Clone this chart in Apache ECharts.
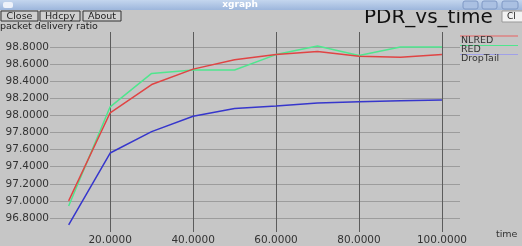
<!DOCTYPE html>
<html><head><meta charset="utf-8">
<script src="https://cdn.jsdelivr.net/npm/echarts@6/dist/echarts.min.js"></script>
<style>html,body{margin:0;padding:0;background:#c6c6c6}#c{width:522px;height:246px}</style>
</head><body><div id="c"></div>
<script>
var time = [10, 20, 30, 40, 50, 60, 70, 80, 90, 100];
var NLRED = [97.00, 98.03, 98.36, 98.54, 98.65, 98.71, 98.745, 98.69, 98.68, 98.71];
var RED = [96.94, 98.10, 98.49, 98.53, 98.53, 98.71, 98.81, 98.70, 98.80, 98.80];
var DropTail = [96.72, 97.56, 97.81, 97.99, 98.08, 98.11, 98.145, 98.16, 98.17, 98.18];
var xTicks = [20, 40, 60, 80, 100];
var yTicks = [96.8, 97.0, 97.2, 97.4, 97.6, 97.8, 98.0, 98.2, 98.4, 98.6, 98.8];
var seriesNames = ['NLRED', 'RED', 'DropTail'];
var colors = ['#e04444', '#4fe68e', '#3636cc'];

function pairs(ys){ return time.map(function(t,i){return [t, ys[i]];}); }
var chart = echarts.init(document.getElementById('c'), null, {renderer:'canvas'});
var F = 'DejaVu Sans';
var graphics = [
  {type:'rect', shape:{x:0,y:0,width:522,height:10}, style:{fill:new echarts.graphic.LinearGradient(0,0,0,1,[{offset:0,color:'#c4d6ee'},{offset:1,color:'#9db6dc'}])}, z:10},
  {type:'rect', shape:{x:3,y:2,width:10,height:6,r:2}, style:{fill:'#eef2fa'}, z:11},
  {type:'text', style:{text:'xgraph', x:240, y:5, fill:'#ffffff', font:'bold 9px '+F, align:'center', verticalAlign:'middle'}, z:11},
  {type:'rect', shape:{x:463,y:1,width:15,height:8,r:2}, style:{fill:'#aac0e2', stroke:'#7f98c4', lineWidth:1}, z:11},
  {type:'rect', shape:{x:482,y:1,width:15,height:8,r:2}, style:{fill:'#aac0e2', stroke:'#7f98c4', lineWidth:1}, z:11},
  {type:'rect', shape:{x:502,y:1,width:16,height:8,r:2}, style:{fill:'#aac0e2', stroke:'#7f98c4', lineWidth:1}, z:11},
  {type:'rect', shape:{x:1,y:11,width:37,height:10}, style:{fill:'#cfcfcf', stroke:'#333', lineWidth:1}, z:10},
  {type:'text', style:{text:'Close', x:19.5, y:16.5, fill:'#222', font:'9.5px '+F, align:'center', verticalAlign:'middle'}, z:11},
  {type:'rect', shape:{x:40,y:11,width:40,height:10}, style:{fill:'#cfcfcf', stroke:'#333', lineWidth:1}, z:10},
  {type:'text', style:{text:'Hdcpy', x:60, y:16.5, fill:'#222', font:'9.5px '+F, align:'center', verticalAlign:'middle'}, z:11},
  {type:'rect', shape:{x:83,y:11,width:38,height:10}, style:{fill:'#cfcfcf', stroke:'#333', lineWidth:1}, z:10},
  {type:'text', style:{text:'About', x:102, y:16.5, fill:'#222', font:'9.5px '+F, align:'center', verticalAlign:'middle'}, z:11},
  {type:'rect', shape:{x:502,y:11,width:22,height:11}, style:{fill:'#f2f2f2', stroke:'#999', lineWidth:1}, z:10},
  {type:'text', style:{text:'Cl', x:507, y:16.5, fill:'#222', font:'9px '+F, verticalAlign:'middle'}, z:11},
  {type:'text', style:{text:'packet delivery ratio', x:0, y:27, fill:'#222', font:'9.5px '+F, verticalAlign:'middle'}, z:11},
  {type:'text', style:{text:'time', x:496, y:235, fill:'#333', font:'9.5px '+F, verticalAlign:'middle'}, z:11}
];
var legY = [36, 45.5, 54.5];
var legLine = ['#e86060', '#4fe68e', '#a0a0e8'];
seriesNames.forEach(function(n,i){
  graphics.push({type:'line', shape:{x1:460,y1:legY[i],x2:518,y2:legY[i]}, style:{stroke:legLine[i], lineWidth:1}, z:10});
  graphics.push({type:'text', style:{text:n, x:461, y:legY[i]+4.5, fill:'#333', font:'9.5px '+F, verticalAlign:'middle'}, z:11});
});

chart.setOption({
  animation:false,
  backgroundColor:'#c6c6c6',
  title:{text:'PDR_vs_time', left:364, top:8, textStyle:{fontFamily:F, fontSize:20, fontWeight:'normal', color:'#111'}, padding:0},
  grid:{left:50, right:62, top:32, bottom:13},
  xAxis:{type:'value', min:5.5, max:104.35,
    axisLine:{show:false}, axisTick:{show:false, customValues:xTicks},
    axisLabel:{customValues:xTicks, formatter:function(v){return v.toFixed(4);}, fontFamily:F, fontSize:10.5, color:'#333', margin:3},
    splitLine:{show:true, lineStyle:{color:'#5c5c5c', width:1}}},
  yAxis:{type:'value', min:96.637, max:98.974,
    axisLine:{show:false}, axisTick:{show:false, customValues:yTicks},
    axisLabel:{customValues:yTicks, formatter:function(v){return v.toFixed(4);}, fontFamily:F, fontSize:10.5, color:'#333', margin:1},
    splitLine:{show:true, lineStyle:{color:'#9c9c9c', width:1}}},
  series:[
    {name:seriesNames[0], type:'line', data:pairs(NLRED), showSymbol:false, lineStyle:{color:colors[0], width:1.5}, itemStyle:{color:colors[0]}, z:3},
    {name:seriesNames[1], type:'line', data:pairs(RED), showSymbol:false, lineStyle:{color:colors[1], width:1.5}, itemStyle:{color:colors[1]}, z:2},
    {name:seriesNames[2], type:'line', data:pairs(DropTail), showSymbol:false, lineStyle:{color:colors[2], width:1.5}, itemStyle:{color:colors[2]}, z:2}
  ],
  graphic:graphics
});
</script></body></html>
